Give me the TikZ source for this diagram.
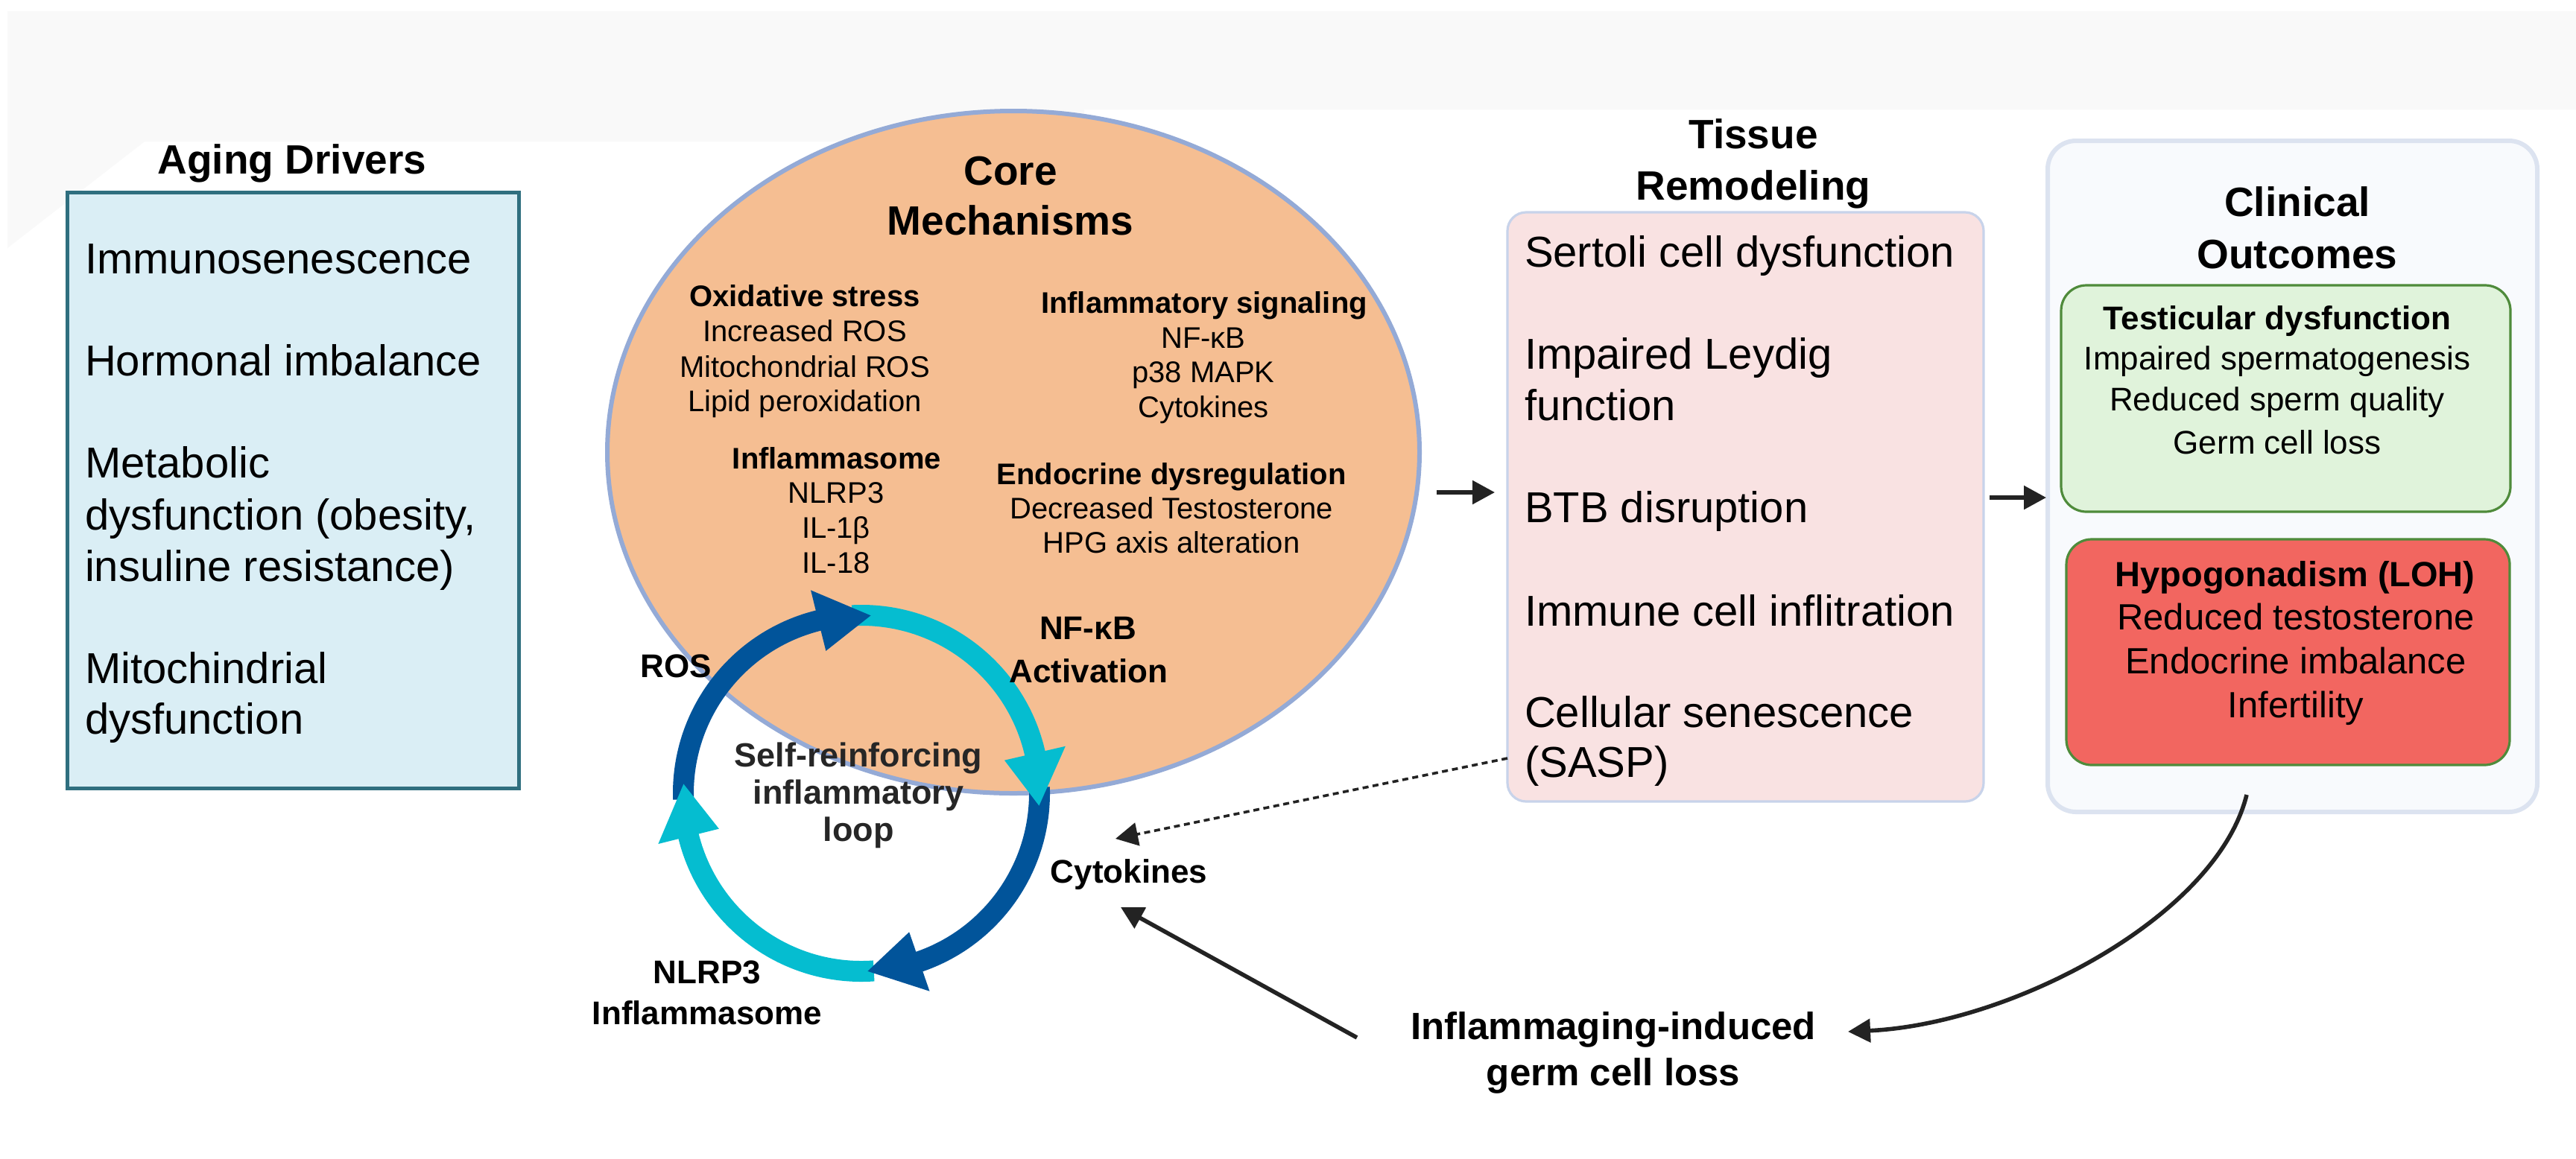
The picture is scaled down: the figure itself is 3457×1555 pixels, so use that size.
\documentclass[tikz,border=0pt]{standalone}
\usepackage{fontspec}
\setmainfont{Liberation Sans}
\usetikzlibrary{arrows.meta,shapes.geometric}
\definecolor{bandgray}{RGB}{249,249,249}
\definecolor{agefill}{RGB}{218,238,245}
\definecolor{ageline}{RGB}{47,111,127}
\definecolor{corefill}{RGB}{245,190,146}
\definecolor{coreline}{RGB}{148,170,214}
\definecolor{tisfill}{RGB}{249,226,226}
\definecolor{tisline}{RGB}{200,211,234}
\definecolor{clinfill}{RGB}{248,250,253}
\definecolor{clinline}{RGB}{220,227,240}
\definecolor{greenfill}{RGB}{224,243,219}
\definecolor{boxgreen}{RGB}{79,139,59}
\definecolor{redfill}{RGB}{242,102,96}
\definecolor{loopdark}{RGB}{1,84,154}
\definecolor{loopcyan}{RGB}{5,189,208}
\definecolor{arrowblack}{RGB}{35,35,35}
\definecolor{looptext}{RGB}{38,38,38}
\begin{document}
\begin{tikzpicture}[x=0.25pt,y=0.25pt,
  every node/.style={inner sep=0pt,outer sep=0pt},
  ttl/.style={anchor=base,font=\fontsize{13.75}{16}\selectfont\bfseries},
  bodyl/.style={anchor=base west,font=\fontsize{14.5}{17}\selectfont},
  smallb/.style={anchor=base,font=\fontsize{10}{12}\selectfont\bfseries},
  smallr/.style={anchor=base,font=\fontsize{10}{12}\selectfont},
  looptxt/.style={anchor=base,font=\fontsize{11}{13}\selectfont\bfseries},
  selftxt/.style={anchor=base,text=looptext,font=\fontsize{11.25}{13}\selectfont\bfseries},
  germtxt/.style={anchor=base,font=\fontsize{12.75}{15}\selectfont\bfseries},
  greenb/.style={anchor=base,font=\fontsize{11}{13}\selectfont\bfseries},
  greenr/.style={anchor=base,font=\fontsize{11}{13}\selectfont},
  redb/.style={anchor=base,font=\fontsize{11.75}{14}\selectfont\bfseries},
  redr/.style={anchor=base,font=\fontsize{12.25}{14}\selectfont},
  arr/.style={draw=arrowblack,line width=1.4pt,-{Triangle[length=7.5pt,width=7.75pt]}},
  dotarr/.style={draw=arrowblack,line width=0.9pt,dash pattern=on 2pt off 1.4pt,-{Triangle[length=7.5pt,width=7.75pt]}},
  darkarc/.style={draw=loopdark,line width=7pt},
  cyanarc/.style={draw=loopcyan,line width=7pt}]
\useasboundingbox (0,0) rectangle (3457,-1555);
\fill[white] (0,0) rectangle (3457,-1555);
\fill[bandgray] (10,-15) -- (3457,-15) -- (3457,-147) -- (1455,-147) -- (1455,-190) -- (194,-190) -- (10,-333) -- cycle;

% ---------------- Aging drivers
\node[ttl] (agetitle) at (392,-233) {Aging Drivers};
\node[draw=ageline,fill=agefill,line width=1.25pt,minimum width=151.5pt,minimum height=200pt] (agebox) at (393,-658) {};
\node[bodyl] (ad1) at (114,-367) {Immunosenescence};
\node[bodyl] (ad2) at (114,-504) {Hormonal imbalance};
\node[bodyl] (ad3) at (114,-641) {Metabolic};
\node[bodyl] (ad4) at (114,-711) {dysfunction (obesity,};
\node[bodyl] (ad5) at (114,-780) {insuline resistance)};
\node[bodyl] (ad6) at (114,-917) {Mitochindrial};
\node[bodyl] (ad7) at (114,-985) {dysfunction};

% ---------------- Core mechanisms
\node[ellipse,draw=coreline,fill=corefill,line width=1.5pt,minimum width=272.5pt,minimum height=229pt] (core) at (1360,-607) {};
\node[ttl] (coret1) at (1356,-248) {Core};
\node[ttl] (coret2) at (1356,-315) {Mechanisms};
\node[smallb] (ox0) at (1080,-411) {Oxidative stress};
\node[smallr] (ox1) at (1080,-458) {Increased ROS};
\node[smallr] (ox2) at (1080,-506) {Mitochondrial ROS};
\node[smallr] (ox3) at (1080,-552) {Lipid peroxidation};
\node[smallb] (is0) at (1616,-420) {Inflammatory signaling};
\node[smallr] (is1) at (1615,-467) {NF-κB};
\node[smallr] (is2) at (1615,-513) {p38 MAPK};
\node[smallr] (is3) at (1615,-560) {Cytokines};
\node[smallb] (im0) at (1123,-629) {Inflammasome};
\node[smallr] (im1) at (1122,-675) {NLRP3};
\node[smallr] (im2) at (1122,-722) {IL-1β};
\node[smallr] (im3) at (1122,-769) {IL-18};
\node[smallb] (en0) at (1572,-650) {Endocrine dysregulation};
\node[smallr] (en1) at (1572,-696) {Decreased Testosterone};
\node[smallr] (en2) at (1572,-742) {HPG axis alteration};

% ---------------- Loop
\begin{scope}[shift={(1156,-1065)}]
  \draw[darkarc] (182:59.75pt) arc[start angle=182,end angle=100,radius=59.75pt];
  \draw[cyanarc] (93:59.75pt) arc[start angle=93,end angle=9,radius=59.75pt];
  \draw[darkarc] (2:59.75pt) arc[start angle=2,end angle=-80,radius=59.75pt];
  \draw[cyanarc] (-86:59.75pt) arc[start angle=-86,end angle=-170,radius=59.75pt];
  \fill[loopdark] (87:59.75pt) -- (104:49.25pt) -- (104:70.25pt) -- cycle;
  \fill[loopcyan] (-4:59.75pt) -- (13:49.25pt) -- (13:70.25pt) -- cycle;
  \fill[loopdark] (-88:59.75pt) -- (-71:49.25pt) -- (-71:70.25pt) -- cycle;
  \fill[loopcyan] (177:59.75pt) -- (194:49.25pt) -- (194:70.25pt) -- cycle;
\end{scope}
\node[looptxt] (nfk1) at (1460,-858) {NF-κB};
\node[looptxt] (nfk2) at (1461,-916) {Activation};
\node[looptxt] (ros) at (907,-909) {ROS};
\node[selftxt] (self1) at (1152,-1029) {Self-reinforcing};
\node[selftxt] (self2) at (1152,-1079) {inflammatory};
\node[selftxt] (self3) at (1152,-1129) {loop};
\node[looptxt] (cyto) at (1515,-1185) {Cytokines};
\node[looptxt] (nlrp1) at (949,-1320) {NLRP3};
\node[looptxt] (nlrp2) at (949,-1375) {Inflammasome};

% ---------------- Tissue remodeling
\node[ttl] (tist1) at (2353,-199) {Tissue};
\node[ttl] (tist2) at (2353,-268) {Remodeling};
\node[rounded corners=6.25pt,draw=tisline,fill=tisfill,line width=0.8pt,minimum width=159.75pt,minimum height=197.75pt] (tisbox) at (2342.5,-680.5) {};
\node[bodyl] (tr1) at (2046,-358) {Sertoli cell dysfunction};
\node[bodyl] (tr2) at (2046,-495) {Impaired Leydig};
\node[bodyl] (tr3) at (2046,-564) {function};
\node[bodyl] (tr4) at (2046,-701) {BTB disruption};
\node[bodyl] (tr5) at (2046,-840) {Immune cell inflitration};
\node[bodyl] (tr6) at (2046,-976) {Cellular senescence};
\node[bodyl] (tr7) at (2046,-1043) {(SASP)};

% ---------------- Clinical outcomes
\node[rounded corners=9.5pt,draw=clinline,fill=clinfill,line width=1.5pt,minimum width=164.25pt,minimum height=225.25pt] (clinbox) at (3076.5,-639.5) {};
\node[ttl] (clint1) at (3083,-290) {Clinical};
\node[ttl] (clint2) at (3083,-360) {Outcomes};
\node[rounded corners=8.5pt,draw=boxgreen,fill=greenfill,line width=0.8pt,minimum width=150.75pt,minimum height=76pt] (greenbox) at (3067.5,-535) {};
\node[greenb] (g0) at (3056,-442) {Testicular dysfunction};
\node[greenr] (g1) at (3056,-496) {Impaired spermatogenesis};
\node[greenr] (g2) at (3056,-551) {Reduced sperm quality};
\node[greenr] (g3) at (3056,-609) {Germ cell loss};
\node[rounded corners=8.5pt,draw=boxgreen,fill=redfill,line width=0.8pt,minimum width=148.75pt,minimum height=75.75pt] (redbox) at (3070.5,-875.5) {};
\node[redb] (r0) at (3080,-787) {Hypogonadism (LOH)};
\node[redr] (r1) at (3081,-845) {Reduced testosterone};
\node[redr] (r2) at (3081,-904) {Endocrine imbalance};
\node[redr] (r3) at (3081,-963) {Infertility};

% ---------------- Germ cell loss label
\node[germtxt] (germ1) at (2165,-1395) {Inflammaging-induced};
\node[germtxt] (germ2) at (2165,-1457) {germ cell loss};

% ---------------- Connectors
\coordinate (coreout) at (1928,-661);
\coordinate (tisin) at (2006,-661);
\coordinate (tisout) at (2670,-668);
\coordinate (clinin) at (2746,-668);
\coordinate (saspout) at (2023,-1018);
\coordinate (cytoin) at (1497,-1126);
\coordinate (germout) at (1821,-1393);
\coordinate (cytoin2) at (1504,-1218);
\coordinate (clinout) at (3015,-1067);
\coordinate (germin) at (2480,-1385);
\draw[arr] (coreout) -- (tisin);
\draw[arr] (tisout) -- (clinin);
\draw[dotarr] (saspout) -- (cytoin);
\draw[arr] (germout) -- (cytoin2);
\draw[arr] (clinout) .. controls (2975,-1230) and (2700,-1375) .. (germin);
\end{tikzpicture}
\end{document}
